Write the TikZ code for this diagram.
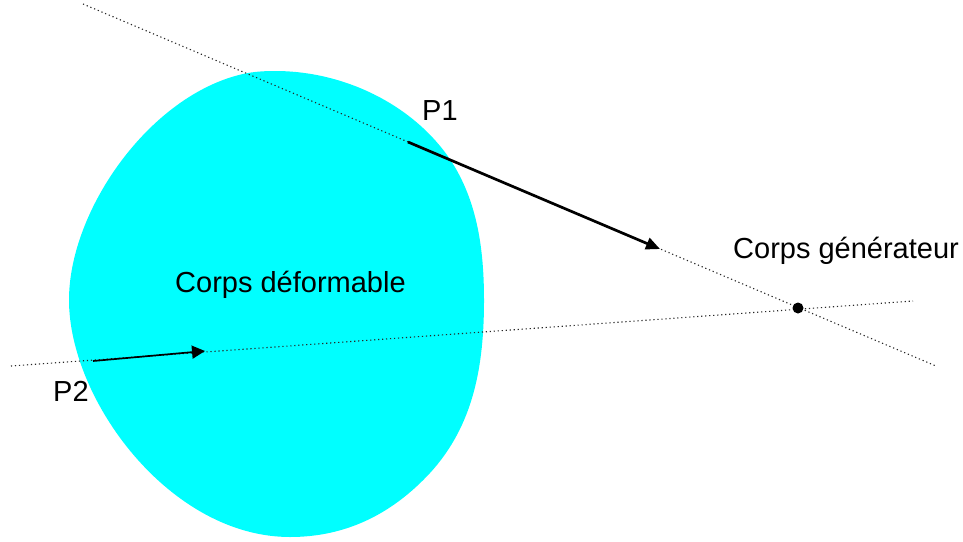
\documentclass[tikz,border=0pt]{standalone}
\usepackage{fontspec}
\setmainfont{Liberation Sans}
\usetikzlibrary{arrows.meta}
\definecolor{blobcyan}{RGB}{0,255,255}
\tikzset{
  lbl/.style={inner sep=0pt,font=\fontsize{29}{33}\selectfont,text=black},
  ray/.style={line width=1.1pt,dash pattern=on 1.2pt off 2.8pt,black!85},
}
\begin{document}
\begin{tikzpicture}[x=1pt,y=-1pt]
\useasboundingbox (0,0) rectangle (963,541);
\fill[blobcyan] (275,71) .. controls (345,71) and (411,105) .. (447,155)
  .. controls (477,197) and (484,248) .. (484,300)
  .. controls (484,365) and (474,425) .. (430,473)
  .. controls (392,514) and (346,537) .. (290,537)
  .. controls (170,537) and (69,400) .. (69,300)
  .. controls (69,210) and (150,95) .. (243,74)
  .. controls (254,71.5) and (265,71) .. (275,71) -- cycle;
\coordinate (a1) at (83,4);
\coordinate (a2) at (936,366);
\coordinate (b1) at (11,366);
\coordinate (b2) at (913,301);
\coordinate (p1) at (408,142);
\coordinate (q1) at (660,249);
\coordinate (p2) at (93,361);
\coordinate (q2) at (205,351);
\draw[ray] (a1) -- (a2);
\draw[ray] (b1) -- (b2);
\draw[-{Triangle[length=14pt,width=12pt]},line width=2.7pt,black] (p1) -- (q1);
\draw[-{Triangle[length=13pt,width=13pt]},line width=1.7pt,black] (p2) -- (q2);
\node[circle,fill=black,minimum size=11pt,inner sep=0pt] (gen) at (798,308) {};
\node[lbl,anchor=base west] (t1) at (422,120) {P1};
\node[lbl,anchor=base west] (t2) at (53,401) {P2};
\node[lbl,anchor=base west] (t3) at (175,292) {Corps déformable};
\node[lbl,anchor=base west] (t4) at (733,258) {Corps générateur};
\end{tikzpicture}
\end{document}
